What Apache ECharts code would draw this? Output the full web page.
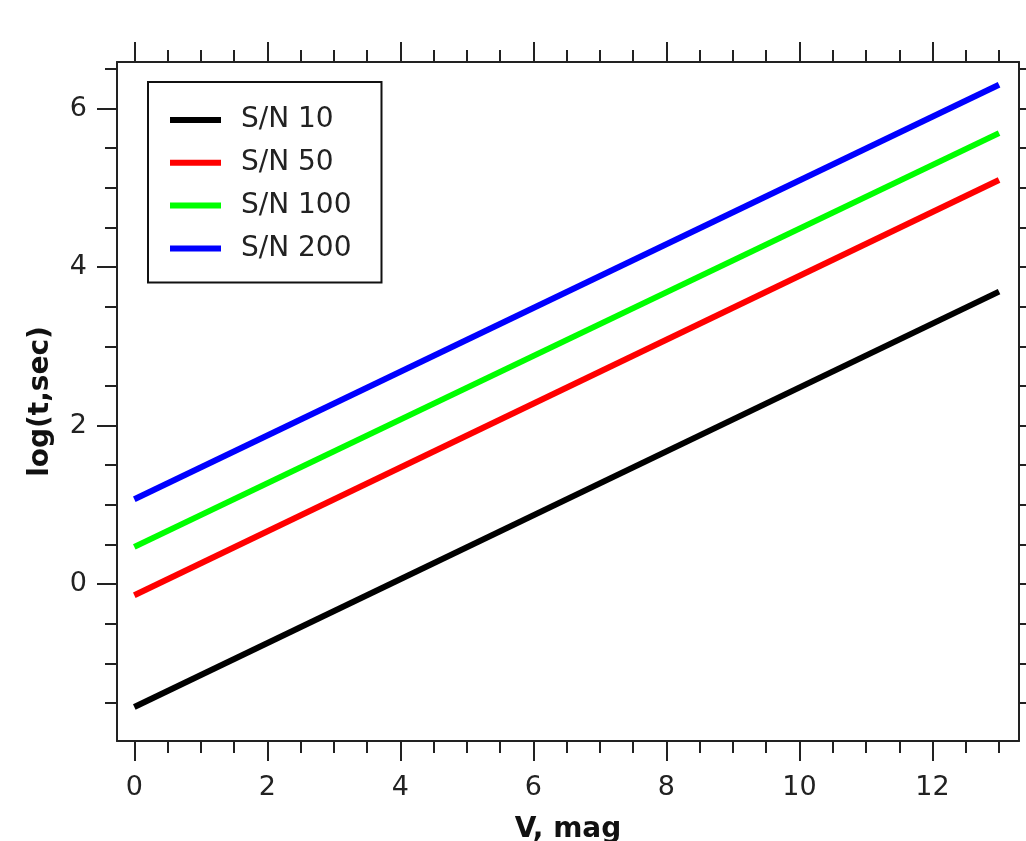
<!DOCTYPE html>
<html>
<head>
<meta charset="utf-8">
<script src="https://cdn.jsdelivr.net/npm/echarts@6/dist/echarts.min.js"></script>
<style>html,body{margin:0;padding:0;background:#fff}#c{width:1026px;height:841px}</style>
</head>
<body>
<div id="c"></div>
<script>
// ---- data ----
const seriesNames = ['S/N 10', 'S/N 50', 'S/N 100', 'S/N 200'];
const vMag = [0, 13];
const sn10 = [-1.55, 3.69];
const sn50 = [-0.14, 5.10];
const sn100 = [0.47, 5.69];
const sn200 = [1.07, 6.30];
const colors = ['#000000', '#ff0000', '#00ff00', '#0000ff'];
const xMajorTicks = [0, 2, 4, 6, 8, 10, 12];
const xMinorTicks = [0.5, 1, 1.5, 2.5, 3, 3.5, 4.5, 5, 5.5, 6.5, 7, 7.5, 8.5, 9, 9.5, 10.5, 11, 11.5, 12.5, 13];
const yMajorTicks = [0, 2, 4, 6];
const yMinorTicks = [-1.5, -1, -0.5, 0.5, 1, 1.5, 2.5, 3, 3.5, 4.5, 5, 5.5, 6.5];
const yRightTicks = [-1.5, -1, -0.5, 0, 0.5, 1, 1.5, 2, 2.5, 3, 3.5, 4, 4.5, 5, 5.5, 6, 6.5];
const xRange = [-0.26, 13.3];
const yRange = [-1.98, 6.588];

const FONT = 'DejaVu Sans';
const AX = '#222';
const allY = [sn10, sn50, sn100, sn200];

function xAx(pos, ticks, len, labels, line) {
  return {
    type: 'value', position: pos, min: xRange[0], max: xRange[1],
    axisLine: { show: line, onZero: false, lineStyle: { color: AX, width: 2 } },
    axisTick: { show: true, length: len, customValues: ticks, lineStyle: { color: AX, width: 2 } },
    axisLabel: labels ? { show: true, customValues: ticks, fontFamily: FONT, fontSize: 27, color: '#222', margin: 33 } : { show: false },
    splitLine: { show: false }
  };
}
function yAx(pos, ticks, len, labels, line) {
  return {
    type: 'value', position: pos, min: yRange[0], max: yRange[1],
    axisLine: { show: line, onZero: false, lineStyle: { color: AX, width: 2 } },
    axisTick: { show: true, length: len, customValues: ticks, lineStyle: { color: AX, width: 2 } },
    axisLabel: labels ? { show: true, customValues: ticks, fontFamily: FONT, fontSize: 27, color: '#222', margin: 30 } : { show: false },
    splitLine: { show: false }
  };
}

const xAxes = [
  xAx('bottom', xMajorTicks, 20, true, true),
  xAx('bottom', xMinorTicks, 12, false, false),
  xAx('top', xMajorTicks, 20, false, true),
  xAx('top', xMinorTicks, 12, false, false)
];
xAxes[0].name = 'V, mag';
xAxes[0].nameLocation = 'middle';
xAxes[0].nameGap = 75;
xAxes[0].nameTextStyle = { fontFamily: FONT, fontSize: 28, fontWeight: 'bold', color: '#111' };

const yAxes = [
  yAx('left', yMajorTicks, 20, true, true),
  yAx('left', yMinorTicks, 12, false, false),
  yAx('right', yRightTicks, 7, false, true)
];
yAxes[0].name = 'log(t,sec)';
yAxes[0].nameLocation = 'middle';
yAxes[0].nameGap = 62;
yAxes[0].nameTextStyle = { fontFamily: FONT, fontSize: 28, fontWeight: 'bold', color: '#111' };

const series = seriesNames.map((n, i) => ({
  name: n, type: 'line', xAxisIndex: 0, yAxisIndex: 0,
  data: vMag.map((v, k) => [v, allY[i][k]]),
  showSymbol: false, symbol: 'none', animation: false,
  lineStyle: { color: colors[i], width: 6 },
  itemStyle: { color: colors[i] }
}));

const chart = echarts.init(document.getElementById('c'), null, { renderer: 'canvas' });
chart.setOption({
  animation: false,
  backgroundColor: '#fff',
  grid: { left: 117, right: 7, top: 62, bottom: 100, containLabel: false, outerBoundsMode: 'none' },
  xAxis: xAxes,
  yAxis: yAxes,
  legend: {
    show: true, orient: 'vertical', left: 148, top: 82,
    data: seriesNames,
    icon: 'rect', itemWidth: 51, itemHeight: 6, itemGap: 12.8,
    padding: [23, 30, 19, 22],
    borderColor: '#111', borderWidth: 2, backgroundColor: '#fff',
    textStyle: { fontFamily: FONT, fontSize: 28, color: '#222', lineHeight: 30, padding: [0, 0, 0, 15] }
  },
  series: series
});
</script>
</body>
</html>
